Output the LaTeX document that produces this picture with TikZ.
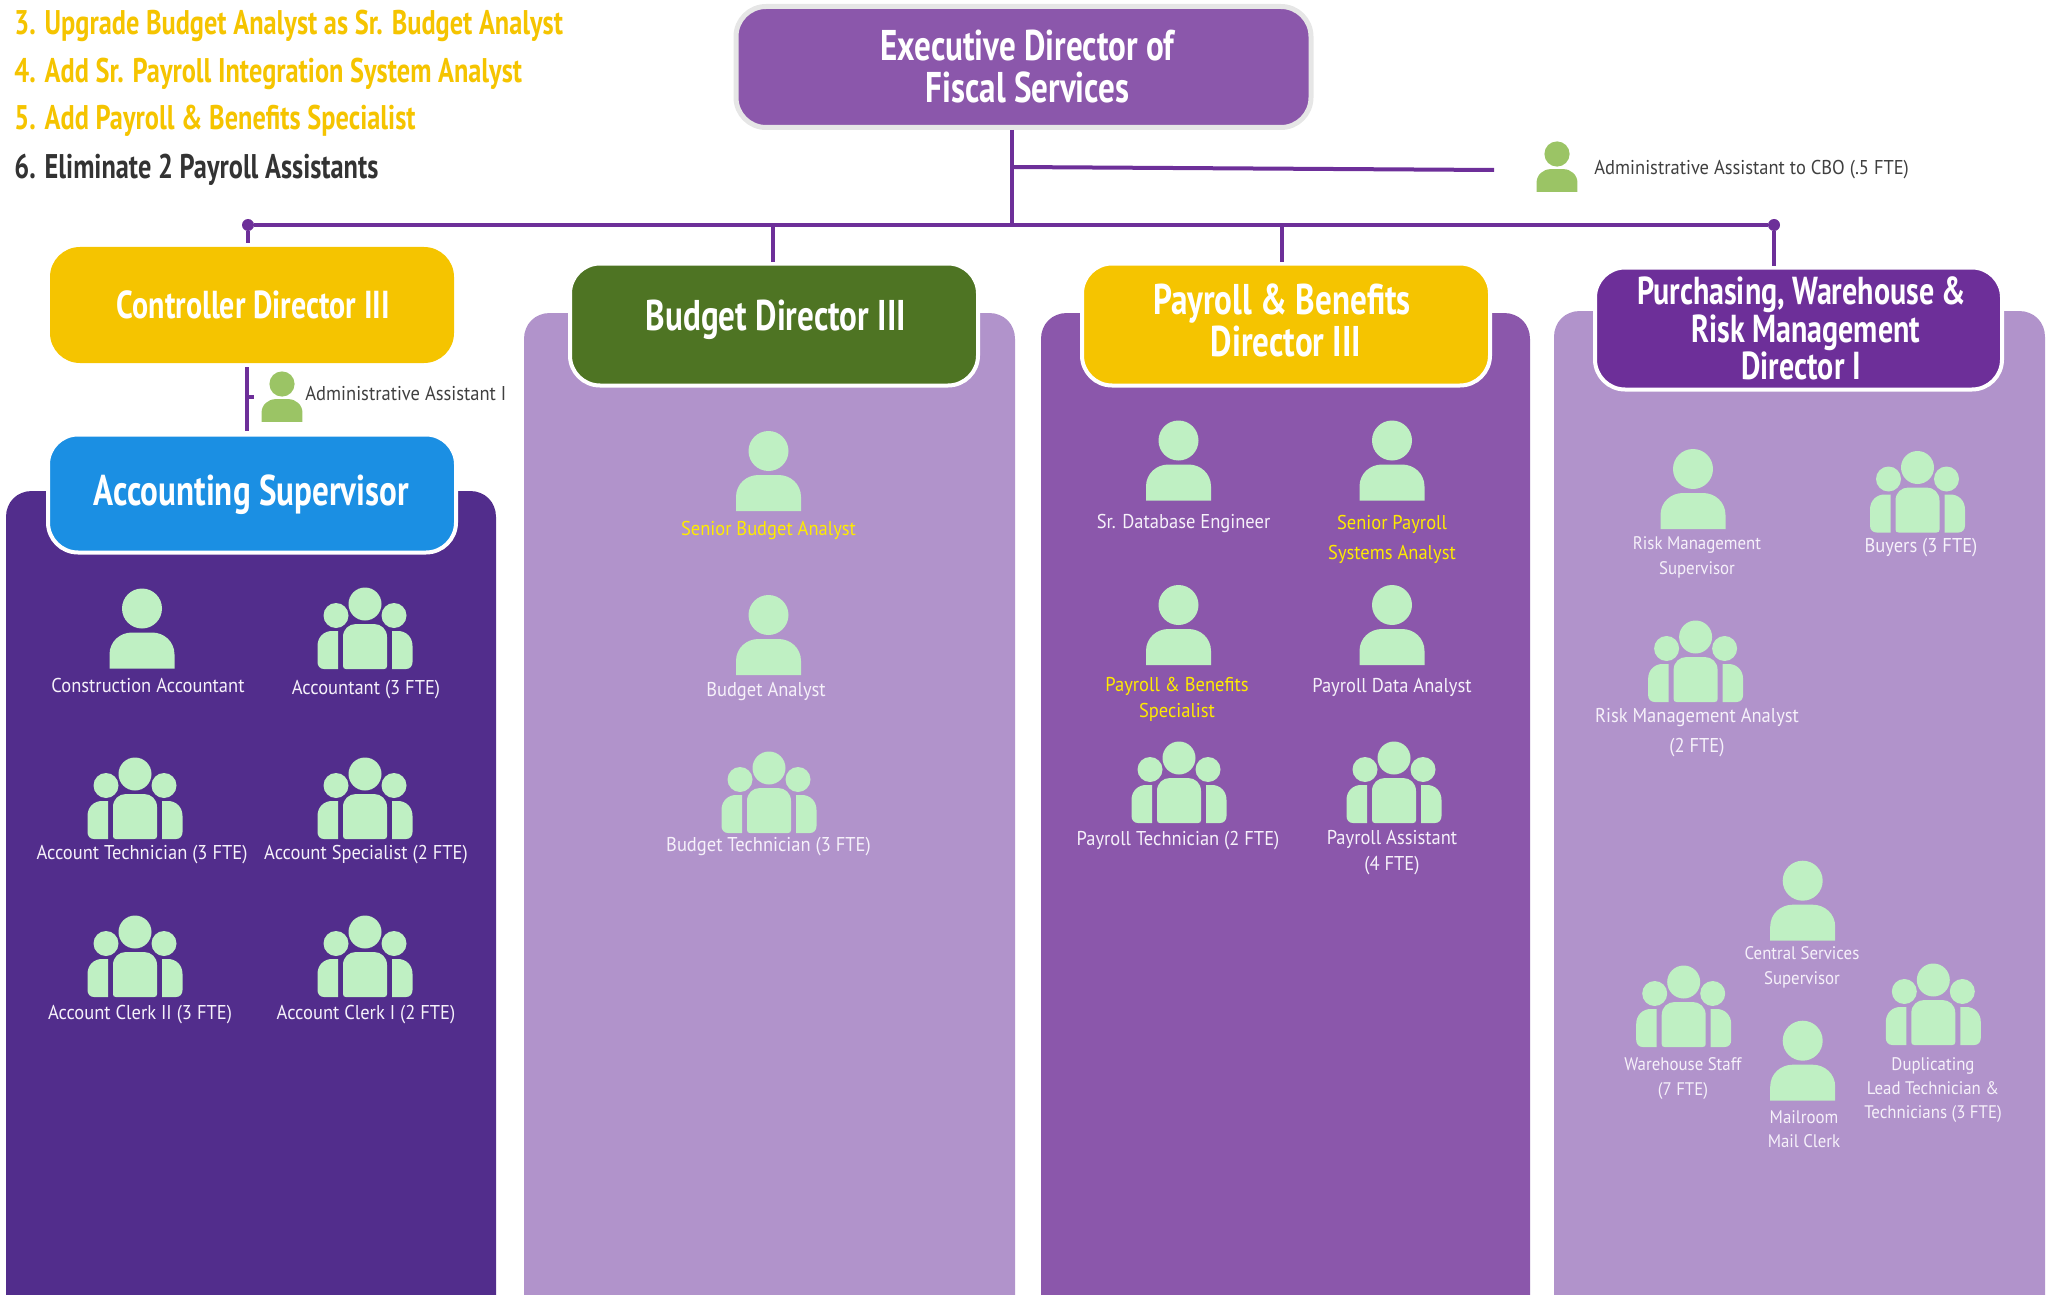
\documentclass[tikz,border=0pt]{standalone}
\usepackage{fontspec}
\setmainfont{PT Sans}
\newfontfamily\hdfont[FakeStretch=.77]{PT Sans}
\newfontfamily\lbfont[FakeStretch=.925]{PT Sans}
\definecolor{mint}{HTML}{BFF0C3}
\definecolor{leaf}{HTML}{9BC465}
\definecolor{gold}{HTML}{F5C400}
\definecolor{lineviolet}{HTML}{6D2F99}
\definecolor{deep}{HTML}{522D8C}
\definecolor{lilac}{HTML}{B193CB}
\definecolor{mauve}{HTML}{8B57AB}
\definecolor{leafdark}{HTML}{4E7423}
\definecolor{azure}{HTML}{1B8FE3}
\definecolor{newrole}{HTML}{FFEB00}
\definecolor{darktext}{HTML}{333333}
\definecolor{greytext}{HTML}{404040}
\definecolor{paleborder}{HTML}{E6E6E6}
\definecolor{paletext}{HTML}{F6F1FA}
\newcommand\nudge[3]{\raisebox{#2}[\height][\depth]{\hspace*{#1}#3\hspace*{-#1}}}
\tikzset{
  headbox/.style={rounded corners=15pt,inner sep=0pt,text=white,align=center,
    font=\hdfont\bfseries\fontsize{21.5}{21}\selectfont},
  framed/.style={headbox,draw=white,line width=2pt},
  lab/.style={text=paletext,align=center,inner sep=0pt,yshift=-1.3pt,
    font=\lbfont\fontsize{10}{12}\selectfont,
    execute at begin node=\strut,execute at end node=\strut},
  narrowlab/.style={lab,font=\lbfont\fontsize{9.1}{12}\selectfont},
  darklab/.style={lab,text=greytext},
  newlab/.style={lab,text=newrole},
  note/.style={anchor=west,inner sep=0pt,font=\hdfont\bfseries\fontsize{17.1}{18}\selectfont},
  wire/.style={draw=lineviolet,line width=2pt},
  dot/.style={circle,fill=lineviolet,inner sep=0pt,minimum size=6pt},
  staff/.style={fill=mint},
  aide/.style={fill=leaf,scale=.63}
}
\newcommand\panelbg[4]{\fill[#4] (#1,1295) -- (#1,#3+26) .. controls (#1,#3+11) and (#1+11,#3) .. (#1+26,#3)
  -- (#2-26,#3) .. controls (#2-11,#3) and (#2,#3+11) .. (#2,#3+26) -- (#2,1295) -- cycle;}
\newcommand\personicon[3][staff]{\begin{scope}[shift={(#2,#3)},#1]
  \fill (0,0) circle[radius=10pt];
  \fill (-32.5,60) -- (-32.5,46) .. controls (-32.5,33) and (-22,24) .. (-10,24) -- (10,24)
    .. controls (22,24) and (32.5,33) .. (32.5,46) -- (32.5,60) -- cycle;
\end{scope}}
\newcommand\groupicon[2]{\begin{scope}[shift={(#1,#2)},staff]
  \fill (0,0) circle[radius=8.25pt];
  \fill (-29,11.5) circle[radius=6.25pt];
  \fill (29,11.5) circle[radius=6.25pt];
  \fill (-22,62) -- (-22,33) .. controls (-22,25) and (-16,20) .. (-9,20) -- (9,20)
    .. controls (16,20) and (22,25) .. (22,33) -- (22,62) .. controls (22,64) and (21,65) .. (19,65)
    -- (-19,65) .. controls (-21,65) and (-22,64) .. (-22,62) -- cycle;
  \fill (-27,27) -- (-27,65) -- (-41,65) .. controls (-45,65) and (-47.5,62) .. (-47.5,58) -- (-47.5,42)
    .. controls (-47.5,33) and (-41,27) .. (-33,27) -- cycle;
  \fill (27,27) -- (27,65) -- (41,65) .. controls (45,65) and (47.5,62) .. (47.5,58) -- (47.5,42)
    .. controls (47.5,33) and (41,27) .. (33,27) -- cycle;
\end{scope}}
\begin{document}
\begin{tikzpicture}[x=0.5pt,y=-0.5pt]
\useasboundingbox (0,0) rectangle (2053,1295);
% panels
\panelbg{6}{496}{491}{deep}
\panelbg{524}{1015}{313}{lilac}
\panelbg{1041}{1530}{313}{mauve}
\panelbg{1554}{2045}{311}{lilac}
% notes
\node[note,text=gold] (n3) at (14,25.5) {3. Upgrade Budget Analyst as Sr. Budget Analyst};
\node[note,text=gold] (n4) at (14,73.5) {4. Add Sr. Payroll Integration System Analyst};
\node[note,text=gold] (n5) at (14,120.5) {5. Add Payroll \& Benefits Specialist};
\node[note,text=darktext] (n6) at (14,169.5) {6. Eliminate 2 Payroll Assistants};
% head boxes
\node[headbox,draw=paleborder,line width=2.5pt,fill=mauve,minimum width=287.5pt,minimum height=60.5pt] (exec) at (1023.5,67) {\nudge{2pt}{0pt}{Executive Director of}\\\nudge{2pt}{0pt}{Fiscal Services}};
\node[headbox,fill=gold,minimum width=202pt,minimum height=58pt,font=\hdfont\bfseries\fontsize{19.5}{21}\selectfont] (ctrl) at (252,305) {\nudge{.7pt}{0pt}{Controller Director III}};
\node[framed,fill=azure,minimum width=204pt,minimum height=59pt] (acct) at (252,493.5) {\nudge{-.3pt}{-.6pt}{Accounting Supervisor}};
\node[framed,fill=leafdark,minimum width=204pt,minimum height=61pt] (bud) at (774,324.5) {\nudge{1pt}{2.6pt}{Budget Director III}};
\node[framed,fill=gold,minimum width=204pt,minimum height=61pt] (pay) at (1286,324.5) {\nudge{-2pt}{2pt}{Payroll \& Benefits}\\\nudge{0pt}{2pt}{Director III}};
\node[framed,fill=lineviolet,minimum width=203.5pt,minimum height=61pt,font=\hdfont\bfseries\fontsize{19.5}{18.7}\selectfont] (pur) at (1798.5,328.5) {\nudge{1.6pt}{0pt}{Purchasing, Warehouse \&}\\\nudge{3.6pt}{0pt}{Risk Management}\\\nudge{1.3pt}{0pt}{Director I}};
% connectors
\node[dot] (dotl) at (248,225) {};
\node[dot] (dotr) at (1774,225) {};
\coordinate (trunk) at (1012,225);
\coordinate (aidein) at (1012,167);
\coordinate (aideend) at (1494,170);
\coordinate (budtop) at (772.5,225);
\coordinate (paytop) at (1282,225);
\coordinate (subtop) at (246.5,367);
\coordinate (subbot) at (246.5,431);
\coordinate (subjoin) at (246.5,397);
\coordinate (subtick) at (254,397);
\draw[wire] (dotl) -- (dotr);
\draw[wire] (trunk |- exec.south) -- (trunk);
\draw[wire] (aidein) -- (aideend);
\draw[wire,shorten >=2pt] (dotl) -- (dotl |- ctrl.north);
\draw[wire] (budtop) -- (budtop |- bud.north);
\draw[wire] (paytop) -- (paytop |- pay.north);
\draw[wire] (dotr) -- (dotr |- pur.north);
\draw[wire] (subtop) -- (subbot);
\draw[wire] (subjoin) -- (subtick);
% administrative aides
\personicon[aide]{282}{384}
\node[darklab,anchor=west] (aa1) at (305,393.5) {Administrative Assistant I};
\personicon[aide]{1557}{154}
\node[darklab,anchor=west] (aa2) at (1594,167) {Administrative Assistant to CBO (.5 FTE)};
% panel 1
\personicon{142}{608.5}\node[lab] (l11) at (148,685.5) {Construction Accountant};
\groupicon{365}{604}\node[lab] (l12) at (366,687) {Accountant (3 FTE)};
\groupicon{135}{774}\node[lab] (l13) at (142,852) {Account Technician (3 FTE)};
\groupicon{365}{774}\node[lab] (l14) at (366,852) {Account Specialist (2 FTE)};
\groupicon{135}{932}\node[lab] (l15) at (140,1012) {Account Clerk II (3 FTE)};
\groupicon{365}{932}\node[lab] (l16) at (366,1012) {Account Clerk I (2 FTE)};
% panel 2
\personicon{768.5}{451}\node[newlab] (l21) at (768.5,528) {Senior Budget Analyst};
\personicon{768.5}{615}\node[lab] (l22) at (766,689) {Budget Analyst};
\groupicon{769}{768}\node[lab] (l23) at (768.5,844.5) {Budget Technician (3 FTE)};
% panel 3
\personicon{1178.5}{440.5}\node[lab] (l31) at (1183.6,521.4) {Sr. Database Engineer};
\personicon{1392}{440.5}\node[newlab] (l32) at (1392,538) {Senior Payroll\\[3pt]Systems Analyst};
\personicon{1178.5}{605}\node[newlab] (l33) at (1177,698.5) {Payroll \& Benefits\\[1pt]Specialist};
\personicon{1392}{605}\node[lab] (l34) at (1392,685) {Payroll Data Analyst};
\groupicon{1179}{758}\node[lab] (l35) at (1178,838) {Payroll Technician (2 FTE)};
\groupicon{1394}{758}\node[lab] (l36) at (1392,851.5) {Payroll Assistant\\[1pt](4 FTE)};
% panel 4
\personicon{1693}{469}\node[narrowlab] (l41) at (1697,556.5) {Risk Management\\[.5pt]Supervisor};
\groupicon{1917.5}{467.5}\node[lab] (l42) at (1921,545.5) {Buyers (3 FTE)};
\groupicon{1695.6}{637}\node[lab] (l43) at (1697,731) {Risk Management Analyst\\[3pt](2 FTE)};
\personicon{1802.7}{880.7}\node[narrowlab] (l44) at (1802,966.5) {Central Services\\[.5pt]Supervisor};
\groupicon{1683.7}{982}\node[narrowlab] (l45) at (1683,1077.5) {Warehouse Staff\\[.5pt](7 FTE)};
\personicon{1802.7}{1040.7}\node[narrowlab] (l46) at (1804,1130) {Mailroom\\[-.3pt]Mail Clerk};
\groupicon{1933.3}{980}\node[narrowlab] (l47) at (1933,1089) {Duplicating\\Lead Technician \&\\Technicians (3 FTE)};
\end{tikzpicture}
\end{document}
